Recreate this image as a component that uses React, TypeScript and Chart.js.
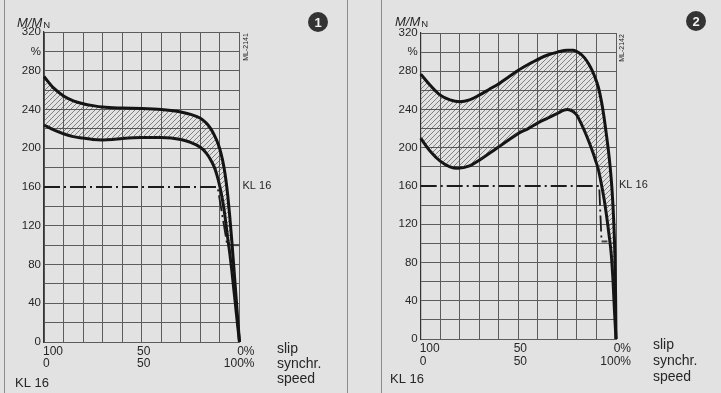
import React, { useEffect, useRef } from 'react';
import { Chart, registerables } from 'chart.js';

Chart.register(...registerables);

const FONT = "'Liberation Sans', Arial, Helvetica, sans-serif";
const TXT = '#262626';
const GRID = '#5c5c5c';
const BG = '#e2e2e2';

// ---- axis / label data ----
const Y_MIN = 0;
const Y_MAX = 320;
const Y_STEP = 20;
const Y_TICK_LABELS: Record<number, string> = {
  0: '0', 40: '40', 80: '80', 120: '120', 160: '160', 200: '200',
  240: '240', 280: '280', 300: '%', 320: '320',
};
const X_STEP = 10;
const X_LABEL_AT = [100, 50, 0];
const X_LABEL_SLIP = ['100', '50', '0%'];
const X_LABEL_SPEED = ['0', '50', '100%'];
const UNIT_LABELS = ['slip', 'synchr.', 'speed'];
const KL_LABEL = 'KL 16';
const KL_LEVEL = 160;

// ---- panel 1 series ----
const P1_UPPER_SLIP = [100, 95, 90, 85, 80, 75, 70, 60, 50, 40, 35, 30, 25, 20, 17, 15, 13, 11, 9.5, 8, 7, 6, 5, 4, 3, 2, 1, 0];
const P1_UPPER_M = [274, 262, 254, 249, 246, 244, 242.5, 241.5, 241, 240, 239, 237.5, 235, 231, 226, 221, 214, 205, 195, 181, 168, 151, 130, 106, 80, 53, 26, 0];
const P1_LOWER_SLIP = [100, 95, 90, 85, 80, 75, 70, 65, 60, 50, 40, 30, 25, 20, 17, 15, 13, 11.5, 10, 9, 8, 7, 6, 5, 4, 3, 2, 1, 0];
const P1_LOWER_M = [224, 219, 215, 212, 210.5, 209, 208.5, 209, 210, 211, 211, 209, 206, 201, 195, 189, 181, 172, 160, 150, 138, 123, 107, 92, 75, 56, 37, 18, 0];
const P1_KL_SLIP = [100, 11.2, 6.3];
const P1_KL_M = [160, 160, 100];
const P1_STUB_SLIP = [6.3, 0];
const P1_STUB_M = [100, 100];

// ---- panel 2 series ----
const P2_UPPER_SLIP = [100, 95, 90, 85, 80, 75, 70, 65, 60, 55, 50, 45, 40, 35, 30, 25, 22, 20, 17.5, 15, 13, 11, 9, 7.5, 6.2, 5, 4, 3, 2, 1.2, 0.6, 0.2, 0];
const P2_UPPER_M = [277, 265, 255, 250, 248, 250, 255, 261, 267, 274, 281, 287, 292.5, 297, 300, 302, 302, 300.5, 297, 291, 284, 275, 263, 249, 233, 215, 199, 180, 155, 125, 90, 45, 0];
const P2_LOWER_SLIP = [100, 95, 90, 85, 81, 75, 70, 65, 60, 55, 50, 45, 40, 35, 30, 27, 25, 22, 20, 18, 16, 14, 12, 10.5, 9, 7.5, 6, 4.9, 3.5, 2.4, 1.5, 0.8, 0];
const P2_LOWER_M = [210, 196, 186, 180, 178.5, 181, 187, 194, 201, 208, 215, 220, 226, 231, 236, 239, 240, 238, 234, 226, 217, 207, 196, 187, 177, 162, 145, 130, 108, 88, 60, 30, 0];
const P2_KL_SLIP = [100, 8.6, 7.4];
const P2_KL_M = [160, 160, 102];
const P2_STUB_SLIP = [7.4, 4.4];
const P2_STUB_M = [102, 102];

const toPts = (xs: number[], ys: number[]) => xs.map((x, i) => ({ x, y: ys[i] }));

function makeHatch(): CanvasPattern | string {
  const c = document.createElement('canvas');
  c.width = 5;
  c.height = 5;
  const g = c.getContext('2d');
  if (!g) return 'rgba(120,120,120,0.3)';
  g.strokeStyle = 'rgba(60,60,60,0.65)';
  g.lineWidth = 0.9;
  g.beginPath();
  g.moveTo(0, 5); g.lineTo(5, 0);
  g.moveTo(-1, 1); g.lineTo(1, -1);
  g.moveTo(4, 6); g.lineTo(6, 4);
  g.stroke();
  return g.createPattern(c, 'repeat') || 'rgba(120,120,120,0.3)';
}

type PanelDef = {
  left: number;
  width: number;
  padRight: number;
  padTop: number;
  yWidth: number;
  xHeight: number;
  upper: { x: number; y: number }[];
  lower: { x: number; y: number }[];
  kl: { x: number; y: number }[];
  stub: { x: number; y: number }[];
  num: string;
  code: string;
  mPos: [number, number];
  circle: [number, number];
  codeX: number;
  klBottom: [number, number];
  unitX: number;
  unitBase: number[];
  xBase: number[];
};

const PANELS: PanelDef[] = [
  {
    left: 0, width: 360, padRight: 120.5, padTop: 32, yWidth: 44, xHeight: 51,
    upper: toPts(P1_UPPER_SLIP, P1_UPPER_M),
    lower: toPts(P1_LOWER_SLIP, P1_LOWER_M),
    kl: toPts(P1_KL_SLIP, P1_KL_M),
    stub: toPts(P1_STUB_SLIP, P1_STUB_M),
    num: '1', code: 'ML-2141',
    mPos: [17, 27], circle: [318, 22], codeX: 246.5,
    klBottom: [15, 387], unitX: 277, unitBase: [353, 368, 383], xBase: [355, 367],
  },
  {
    left: 360, width: 361, padRight: 105, padTop: 33, yWidth: 60.7, xHeight: 54,
    upper: toPts(P2_UPPER_SLIP, P2_UPPER_M),
    lower: toPts(P2_LOWER_SLIP, P2_LOWER_M),
    kl: toPts(P2_KL_SLIP, P2_KL_M),
    stub: toPts(P2_STUB_SLIP, P2_STUB_M),
    num: '2', code: 'ML-2142',
    mPos: [35, 26], circle: [336, 21], codeX: 262.5,
    klBottom: [30, 383], unitX: 293, unitBase: [349, 365, 381], xBase: [352, 365],
  },
];

function textPlugin(p: PanelDef) {
  return {
    id: 'panelText' + p.num,
    afterDraw(chart: any) {
      const ctx: CanvasRenderingContext2D = chart.ctx;
      const xs = chart.scales.x;
      const ys = chart.scales.y;
      const area = chart.chartArea;
      ctx.save();
      ctx.fillStyle = TXT;
      ctx.textBaseline = 'alphabetic';

      // M/M_N
      ctx.textAlign = 'left';
      ctx.font = `italic 13px ${FONT}`;
      ctx.fillText('M/M', p.mPos[0], p.mPos[1]);
      const w = ctx.measureText('M/M').width;
      ctx.font = `9.5px ${FONT}`;
      ctx.fillText('N', p.mPos[0] + w + 1, p.mPos[1] + 1);

      // x labels
      ctx.font = `12px ${FONT}`;
      X_LABEL_AT.forEach((v, i) => {
        const px = xs.getPixelForValue(v);
        let ax: CanvasTextAlign = 'center';
        let off = 2;
        if (i === 0) { ax = 'left'; off = -1; }
        if (i === X_LABEL_AT.length - 1) { ax = 'right'; off = 15; }
        ctx.textAlign = ax;
        ctx.fillText(X_LABEL_SLIP[i], px + off, p.xBase[0]);
        ctx.fillText(X_LABEL_SPEED[i], px + off, p.xBase[1]);
      });

      // unit labels
      ctx.textAlign = 'left';
      ctx.font = `14px ${FONT}`;
      UNIT_LABELS.forEach((t, i) => ctx.fillText(t, p.unitX, p.unitBase[i]));

      // KL 16 bottom-left
      ctx.font = `13px ${FONT}`;
      ctx.fillText(KL_LABEL, p.klBottom[0], p.klBottom[1]);

      // KL 16 next to line
      ctx.font = `11px ${FONT}`;
      ctx.fillText(KL_LABEL, area.right + 3, ys.getPixelForValue(KL_LEVEL) + 2);

      // rotated code
      ctx.save();
      ctx.translate(p.codeX, area.top + 15);
      ctx.rotate(-Math.PI / 2);
      ctx.font = `7px ${FONT}`;
      ctx.textAlign = 'center';
      ctx.textBaseline = 'middle';
      ctx.fillText(p.code, 0, 0);
      ctx.restore();

      // number badge
      ctx.beginPath();
      ctx.arc(p.circle[0], p.circle[1], 10, 0, Math.PI * 2);
      ctx.fillStyle = '#333';
      ctx.fill();
      ctx.fillStyle = '#f2f2f2';
      ctx.font = `bold 13px ${FONT}`;
      ctx.textAlign = 'center';
      ctx.textBaseline = 'middle';
      ctx.fillText(p.num, p.circle[0], p.circle[1] + 1);

      ctx.restore();
    },
  };
}

function Panel({ p }: { p: PanelDef }) {
  const ref = useRef<HTMLCanvasElement>(null);
  useEffect(() => {
    if (!ref.current) return;
    const hatch = makeHatch();
    const lineBase = { pointRadius: 0, pointHoverRadius: 0, clip: false as any };
    const curve = { borderColor: '#141414', borderWidth: 3, cubicInterpolationMode: 'monotone' as const };
    const chart = new Chart(ref.current, {
      type: 'line',
      data: {
        datasets: [
          { ...lineBase, ...curve, data: p.upper, fill: { target: 1 }, backgroundColor: hatch as any },
          { ...lineBase, ...curve, data: p.lower, fill: false },
          { ...lineBase, data: p.kl, borderColor: '#1c1c1c', borderWidth: 1.8, borderDash: [16, 4, 2, 4], tension: 0, fill: false },
          { ...lineBase, data: p.stub, borderColor: '#444', borderWidth: 2, tension: 0, fill: false },
        ],
      },
      options: {
        animation: false,
        responsive: false,
        events: [],
        layout: { padding: { left: 0, right: p.padRight, top: p.padTop, bottom: 0 } },
        plugins: { legend: { display: false }, tooltip: { enabled: false } },
        scales: {
          x: {
            type: 'linear', min: 0, max: 100, reverse: true,
            ticks: { stepSize: X_STEP, display: false },
            grid: { color: GRID, lineWidth: 1, drawTicks: false },
            border: { display: true, color: GRID, width: 1 },
            afterFit: (s: any) => { s.height = p.xHeight; },
          },
          y: {
            type: 'linear', min: Y_MIN, max: Y_MAX,
            ticks: {
              stepSize: Y_STEP, autoSkip: false, padding: 3, color: TXT,
              font: { family: FONT, size: 11.5 },
              callback: (v: any) => Y_TICK_LABELS[Number(v)] ?? '',
            },
            grid: {
              color: (c: any) => (c.tick && c.tick.value === KL_LEVEL ? 'rgba(0,0,0,0)' : GRID),
              lineWidth: 1, drawTicks: false,
            },
            border: { display: true, color: '#333', width: 1.2 },
            afterFit: (s: any) => { s.width = p.yWidth; },
          },
        },
      } as any,
      plugins: [textPlugin(p)],
    });
    return () => chart.destroy();
  }, [p]);
  return (
    <canvas
      ref={ref}
      width={p.width}
      height={393}
      style={{ position: 'absolute', left: p.left, top: 0, width: p.width, height: 393 }}
    />
  );
}

export default function App() {
  return (
    <div style={{ position: 'fixed', left: 0, top: 0, width: 721, height: 393, background: BG, overflow: 'hidden' }}>
      <div style={{ position: 'absolute', left: 4, top: 0, width: 1, height: 393, background: '#8c8c8c' }} />
      <div style={{ position: 'absolute', left: 347, top: 0, width: 1, height: 393, background: '#8c8c8c' }} />
      <div style={{ position: 'absolute', left: 381, top: 0, width: 1, height: 393, background: '#8c8c8c' }} />
      {PANELS.map((p) => <Panel key={p.num} p={p} />)}
    </div>
  );
}
